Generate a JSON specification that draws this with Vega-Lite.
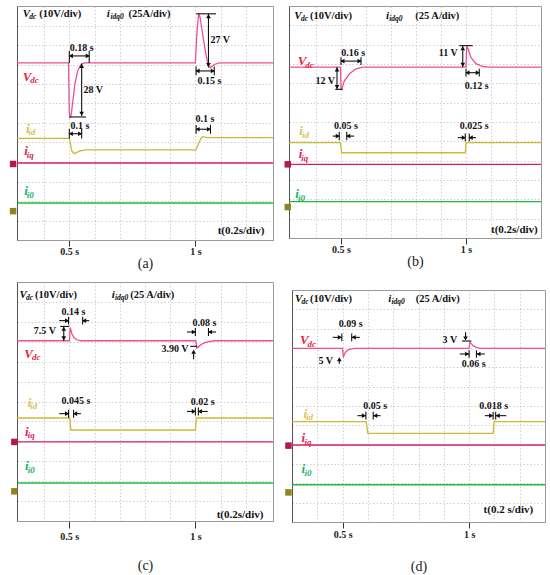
{
  "$schema": "https://vega.github.io/schema/vega-lite/v6.json",
  "description": "Oscilloscope captures of Vdc and idq0 currents for four controllers, panels (a) to (d).",
  "padding": {"left": 9, "top": 5, "right": 0, "bottom": 0},
  "data": {
    "values": [
      {"p": "a", "k": "tr", "s": "vdc", "t": 0.2925, "y": 9.08},
      {"p": "a", "k": "tr", "s": "vdc", "t": 0.497, "y": 9.08},
      {"p": "a", "k": "tr", "s": "vdc", "t": 0.5, "y": 6.5},
      {"p": "a", "k": "tr", "s": "vdc", "t": 0.503, "y": 6.3},
      {"p": "a", "k": "tr", "s": "vdc", "t": 0.507, "y": 6.4},
      {"p": "a", "k": "tr", "s": "vdc", "t": 0.513, "y": 7.0},
      {"p": "a", "k": "tr", "s": "vdc", "t": 0.522, "y": 7.98},
      {"p": "a", "k": "tr", "s": "vdc", "t": 0.533, "y": 8.67},
      {"p": "a", "k": "tr", "s": "vdc", "t": 0.546, "y": 9.0},
      {"p": "a", "k": "tr", "s": "vdc", "t": 0.56, "y": 9.08},
      {"p": "a", "k": "tr", "s": "vdc", "t": 1.0, "y": 9.08},
      {"p": "a", "k": "tr", "s": "vdc", "t": 1.006, "y": 10.6},
      {"p": "a", "k": "tr", "s": "vdc", "t": 1.013, "y": 11.6},
      {"p": "a", "k": "tr", "s": "vdc", "t": 1.019, "y": 11.4},
      {"p": "a", "k": "tr", "s": "vdc", "t": 1.029, "y": 10.55},
      {"p": "a", "k": "tr", "s": "vdc", "t": 1.042, "y": 9.52},
      {"p": "a", "k": "tr", "s": "vdc", "t": 1.052, "y": 8.92},
      {"p": "a", "k": "tr", "s": "vdc", "t": 1.06, "y": 8.84},
      {"p": "a", "k": "tr", "s": "vdc", "t": 1.075, "y": 9.0},
      {"p": "a", "k": "tr", "s": "vdc", "t": 1.095, "y": 9.08},
      {"p": "a", "k": "tr", "s": "vdc", "t": 1.308, "y": 9.08},
      {"p": "a", "k": "tr", "s": "iid", "t": 0.2925, "y": 5.21},
      {"p": "a", "k": "tr", "s": "iid", "t": 0.5, "y": 5.21},
      {"p": "a", "k": "tr", "s": "iid", "t": 0.505, "y": 4.9},
      {"p": "a", "k": "tr", "s": "iid", "t": 0.51, "y": 4.56},
      {"p": "a", "k": "tr", "s": "iid", "t": 0.52, "y": 4.43},
      {"p": "a", "k": "tr", "s": "iid", "t": 0.54, "y": 4.56},
      {"p": "a", "k": "tr", "s": "iid", "t": 0.565, "y": 4.62},
      {"p": "a", "k": "tr", "s": "iid", "t": 1.002, "y": 4.62},
      {"p": "a", "k": "tr", "s": "iid", "t": 1.01, "y": 4.85},
      {"p": "a", "k": "tr", "s": "iid", "t": 1.022, "y": 5.2},
      {"p": "a", "k": "tr", "s": "iid", "t": 1.029, "y": 5.3},
      {"p": "a", "k": "tr", "s": "iid", "t": 1.049, "y": 5.25},
      {"p": "a", "k": "tr", "s": "iid", "t": 1.308, "y": 5.25},
      {"p": "a", "k": "tr", "s": "iiq", "t": 0.2925, "y": 3.95},
      {"p": "a", "k": "tr", "s": "iiq", "t": 1.308, "y": 3.95},
      {"p": "a", "k": "tr", "s": "i0", "t": 0.2925, "y": 1.9},
      {"p": "a", "k": "tr", "s": "i0", "t": 1.308, "y": 1.9},

      {"p": "b", "k": "tr", "s": "vdc", "t": 0.292, "y": 8.84},
      {"p": "b", "k": "tr", "s": "vdc", "t": 0.498, "y": 8.84},
      {"p": "b", "k": "tr", "s": "vdc", "t": 0.5, "y": 7.69},
      {"p": "b", "k": "tr", "s": "vdc", "t": 0.503, "y": 7.69},
      {"p": "b", "k": "tr", "s": "vdc", "t": 0.513, "y": 8.12},
      {"p": "b", "k": "tr", "s": "vdc", "t": 0.533, "y": 8.48},
      {"p": "b", "k": "tr", "s": "vdc", "t": 0.56, "y": 8.75},
      {"p": "b", "k": "tr", "s": "vdc", "t": 0.587, "y": 8.84},
      {"p": "b", "k": "tr", "s": "vdc", "t": 1.0, "y": 8.84},
      {"p": "b", "k": "tr", "s": "vdc", "t": 1.003, "y": 9.93},
      {"p": "b", "k": "tr", "s": "vdc", "t": 1.008, "y": 9.8},
      {"p": "b", "k": "tr", "s": "vdc", "t": 1.02, "y": 9.33},
      {"p": "b", "k": "tr", "s": "vdc", "t": 1.04, "y": 9.02},
      {"p": "b", "k": "tr", "s": "vdc", "t": 1.067, "y": 8.87},
      {"p": "b", "k": "tr", "s": "vdc", "t": 1.093, "y": 8.84},
      {"p": "b", "k": "tr", "s": "vdc", "t": 1.3, "y": 8.84},
      {"p": "b", "k": "tr", "s": "iid", "t": 0.292, "y": 4.93},
      {"p": "b", "k": "tr", "s": "iid", "t": 0.497, "y": 4.93},
      {"p": "b", "k": "tr", "s": "iid", "t": 0.503, "y": 4.41},
      {"p": "b", "k": "tr", "s": "iid", "t": 0.997, "y": 4.41},
      {"p": "b", "k": "tr", "s": "iid", "t": 1.0, "y": 4.93},
      {"p": "b", "k": "tr", "s": "iid", "t": 1.3, "y": 4.93},
      {"p": "b", "k": "tr", "s": "iiq", "t": 0.292, "y": 3.81},
      {"p": "b", "k": "tr", "s": "iiq", "t": 1.3, "y": 3.81},
      {"p": "b", "k": "tr", "s": "i0", "t": 0.292, "y": 1.88},
      {"p": "b", "k": "tr", "s": "i0", "t": 1.3, "y": 1.88},

      {"p": "c", "k": "tr", "s": "vdc", "t": 0.2925, "y": 9.05},
      {"p": "c", "k": "tr", "s": "vdc", "t": 0.501, "y": 9.05},
      {"p": "c", "k": "tr", "s": "vdc", "t": 0.503, "y": 9.72},
      {"p": "c", "k": "tr", "s": "vdc", "t": 0.506, "y": 9.6},
      {"p": "c", "k": "tr", "s": "vdc", "t": 0.51, "y": 9.4},
      {"p": "c", "k": "tr", "s": "vdc", "t": 0.52, "y": 9.19},
      {"p": "c", "k": "tr", "s": "vdc", "t": 0.53, "y": 9.1},
      {"p": "c", "k": "tr", "s": "vdc", "t": 0.545, "y": 9.05},
      {"p": "c", "k": "tr", "s": "vdc", "t": 1.002, "y": 9.05},
      {"p": "c", "k": "tr", "s": "vdc", "t": 1.005, "y": 8.69},
      {"p": "c", "k": "tr", "s": "vdc", "t": 1.01, "y": 8.72},
      {"p": "c", "k": "tr", "s": "vdc", "t": 1.022, "y": 8.85},
      {"p": "c", "k": "tr", "s": "vdc", "t": 1.035, "y": 8.94},
      {"p": "c", "k": "tr", "s": "vdc", "t": 1.05, "y": 8.99},
      {"p": "c", "k": "tr", "s": "vdc", "t": 1.075, "y": 9.05},
      {"p": "c", "k": "tr", "s": "vdc", "t": 1.308, "y": 9.05},
      {"p": "c", "k": "tr", "s": "iid", "t": 0.2925, "y": 5.17},
      {"p": "c", "k": "tr", "s": "iid", "t": 0.502, "y": 5.17},
      {"p": "c", "k": "tr", "s": "iid", "t": 0.506, "y": 4.57},
      {"p": "c", "k": "tr", "s": "iid", "t": 1.0, "y": 4.57},
      {"p": "c", "k": "tr", "s": "iid", "t": 1.004, "y": 5.17},
      {"p": "c", "k": "tr", "s": "iid", "t": 1.308, "y": 5.17},
      {"p": "c", "k": "tr", "s": "iiq", "t": 0.2925, "y": 3.97},
      {"p": "c", "k": "tr", "s": "iiq", "t": 1.308, "y": 3.97},
      {"p": "c", "k": "tr", "s": "i0", "t": 0.2925, "y": 1.91},
      {"p": "c", "k": "tr", "s": "i0", "t": 1.308, "y": 1.91},

      {"p": "d", "k": "tr", "s": "vdc", "t": 0.3, "y": 8.98},
      {"p": "d", "k": "tr", "s": "vdc", "t": 0.5, "y": 8.98},
      {"p": "d", "k": "tr", "s": "vdc", "t": 0.503, "y": 8.56},
      {"p": "d", "k": "tr", "s": "vdc", "t": 0.505, "y": 8.6},
      {"p": "d", "k": "tr", "s": "vdc", "t": 0.509, "y": 8.74},
      {"p": "d", "k": "tr", "s": "vdc", "t": 0.515, "y": 8.83},
      {"p": "d", "k": "tr", "s": "vdc", "t": 0.522, "y": 8.9},
      {"p": "d", "k": "tr", "s": "vdc", "t": 0.535, "y": 8.95},
      {"p": "d", "k": "tr", "s": "vdc", "t": 0.55, "y": 8.98},
      {"p": "d", "k": "tr", "s": "vdc", "t": 1.0, "y": 8.98},
      {"p": "d", "k": "tr", "s": "vdc", "t": 1.003, "y": 9.3},
      {"p": "d", "k": "tr", "s": "vdc", "t": 1.007, "y": 9.25},
      {"p": "d", "k": "tr", "s": "vdc", "t": 1.016, "y": 9.12},
      {"p": "d", "k": "tr", "s": "vdc", "t": 1.029, "y": 9.03},
      {"p": "d", "k": "tr", "s": "vdc", "t": 1.042, "y": 8.98},
      {"p": "d", "k": "tr", "s": "vdc", "t": 1.3, "y": 8.98},
      {"p": "d", "k": "tr", "s": "iid", "t": 0.3, "y": 5.19},
      {"p": "d", "k": "tr", "s": "iid", "t": 0.593, "y": 5.19},
      {"p": "d", "k": "tr", "s": "iid", "t": 0.6, "y": 4.58},
      {"p": "d", "k": "tr", "s": "iid", "t": 1.095, "y": 4.58},
      {"p": "d", "k": "tr", "s": "iid", "t": 1.099, "y": 5.19},
      {"p": "d", "k": "tr", "s": "iid", "t": 1.3, "y": 5.19},
      {"p": "d", "k": "tr", "s": "iiq", "t": 0.3, "y": 3.98},
      {"p": "d", "k": "tr", "s": "iiq", "t": 1.3, "y": 3.98},
      {"p": "d", "k": "tr", "s": "i0", "t": 0.3, "y": 1.93},
      {"p": "d", "k": "tr", "s": "i0", "t": 1.3, "y": 1.93},

      {"p": "a", "k": "mk", "s": "iiq", "t": 0.277, "y": 3.9},
      {"p": "a", "k": "mk", "s": "iid", "t": 0.277, "y": 1.48},
      {"p": "b", "k": "mk", "s": "iiq", "t": 0.287, "y": 3.81},
      {"p": "b", "k": "mk", "s": "iid", "t": 0.287, "y": 1.6},
      {"p": "c", "k": "mk", "s": "iiq", "t": 0.282, "y": 3.97},
      {"p": "c", "k": "mk", "s": "iid", "t": 0.282, "y": 1.49},
      {"p": "d", "k": "mk", "s": "iiq", "t": 0.286, "y": 3.95},
      {"p": "d", "k": "mk", "s": "iid", "t": 0.286, "y": 1.53},

      {"p": "a", "k": "seg", "t": 0.5, "y": 9.44, "t2": 0.579, "y2": 9.44},
      {"p": "a", "k": "seg", "t": 0.5, "y": 9.08, "t2": 0.5, "y2": 9.7},
      {"p": "a", "k": "seg", "t": 0.579, "y": 9.08, "t2": 0.579, "y2": 9.7},
      {"p": "a", "k": "seg", "t": 0.549, "y": 9.05, "t2": 0.549, "y2": 6.35},
      {"p": "a", "k": "seg", "t": 0.5, "y": 6.31, "t2": 0.566, "y2": 6.31},
      {"p": "a", "k": "seg", "t": 0.5, "y": 5.45, "t2": 0.549, "y2": 5.45},
      {"p": "a", "k": "seg", "t": 0.5, "y": 5.2, "t2": 0.5, "y2": 5.7},
      {"p": "a", "k": "seg", "t": 0.549, "y": 5.2, "t2": 0.549, "y2": 5.7},
      {"p": "a", "k": "seg", "t": 1.003, "y": 11.6, "t2": 1.082, "y2": 11.6},
      {"p": "a", "k": "seg", "t": 1.052, "y": 11.6, "t2": 1.052, "y2": 8.85},
      {"p": "a", "k": "seg", "t": 1.003, "y": 8.67, "t2": 1.075, "y2": 8.67},
      {"p": "a", "k": "seg", "t": 1.003, "y": 8.45, "t2": 1.003, "y2": 8.9},
      {"p": "a", "k": "seg", "t": 1.075, "y": 8.45, "t2": 1.075, "y2": 8.9},
      {"p": "a", "k": "seg", "t": 1.003, "y": 5.68, "t2": 1.06, "y2": 5.68},
      {"p": "a", "k": "seg", "t": 1.003, "y": 5.45, "t2": 1.003, "y2": 5.9},
      {"p": "a", "k": "seg", "t": 1.06, "y": 5.45, "t2": 1.06, "y2": 5.9},
      {"p": "a", "k": "head", "s": "l", "t": 0.506, "y": 9.44},
      {"p": "a", "k": "head", "s": "r", "t": 0.573, "y": 9.44},
      {"p": "a", "k": "head", "s": "u", "t": 0.549, "y": 8.93},
      {"p": "a", "k": "head", "s": "d", "t": 0.549, "y": 6.47},
      {"p": "a", "k": "head", "s": "l", "t": 0.506, "y": 5.45},
      {"p": "a", "k": "head", "s": "r", "t": 0.543, "y": 5.45},
      {"p": "a", "k": "head", "s": "u", "t": 1.052, "y": 11.48},
      {"p": "a", "k": "head", "s": "d", "t": 1.052, "y": 8.97},
      {"p": "a", "k": "head", "s": "l", "t": 1.009, "y": 8.67},
      {"p": "a", "k": "head", "s": "r", "t": 1.069, "y": 8.67},
      {"p": "a", "k": "head", "s": "l", "t": 1.009, "y": 5.68},
      {"p": "a", "k": "head", "s": "r", "t": 1.054, "y": 5.68},

      {"p": "b", "k": "seg", "t": 0.484, "y": 8.84, "t2": 0.484, "y2": 7.69},
      {"p": "b", "k": "seg", "t": 0.477, "y": 7.69, "t2": 0.507, "y2": 7.69},
      {"p": "b", "k": "seg", "t": 0.5, "y": 9.15, "t2": 0.58, "y2": 9.15},
      {"p": "b", "k": "seg", "t": 0.5, "y": 8.95, "t2": 0.5, "y2": 9.35},
      {"p": "b", "k": "seg", "t": 0.58, "y": 8.95, "t2": 0.58, "y2": 9.35},
      {"p": "b", "k": "seg", "t": 0.987, "y": 9.93, "t2": 0.987, "y2": 8.84},
      {"p": "b", "k": "seg", "t": 0.973, "y": 9.95, "t2": 1.027, "y2": 9.95},
      {"p": "b", "k": "seg", "t": 1.0, "y": 8.55, "t2": 1.053, "y2": 8.55},
      {"p": "b", "k": "seg", "t": 1.0, "y": 8.35, "t2": 1.0, "y2": 8.75},
      {"p": "b", "k": "seg", "t": 1.053, "y": 8.35, "t2": 1.053, "y2": 8.75},
      {"p": "b", "k": "seg", "t": 0.467, "y": 5.27, "t2": 0.493, "y2": 5.27},
      {"p": "b", "k": "seg", "t": 0.493, "y": 5.05, "t2": 0.493, "y2": 5.5},
      {"p": "b", "k": "seg", "t": 0.523, "y": 5.05, "t2": 0.523, "y2": 5.5},
      {"p": "b", "k": "seg", "t": 0.523, "y": 5.27, "t2": 0.553, "y2": 5.27},
      {"p": "b", "k": "seg", "t": 0.967, "y": 5.19, "t2": 0.997, "y2": 5.19},
      {"p": "b", "k": "seg", "t": 0.997, "y": 5.0, "t2": 0.997, "y2": 5.4},
      {"p": "b", "k": "seg", "t": 1.013, "y": 5.0, "t2": 1.013, "y2": 5.4},
      {"p": "b", "k": "seg", "t": 1.013, "y": 5.19, "t2": 1.04, "y2": 5.19},
      {"p": "b", "k": "head", "s": "u", "t": 0.484, "y": 8.72},
      {"p": "b", "k": "head", "s": "d", "t": 0.484, "y": 7.81},
      {"p": "b", "k": "head", "s": "l", "t": 0.506, "y": 9.15},
      {"p": "b", "k": "head", "s": "r", "t": 0.574, "y": 9.15},
      {"p": "b", "k": "head", "s": "u", "t": 0.987, "y": 9.81},
      {"p": "b", "k": "head", "s": "d", "t": 0.987, "y": 8.96},
      {"p": "b", "k": "head", "s": "l", "t": 1.006, "y": 8.55},
      {"p": "b", "k": "head", "s": "r", "t": 1.047, "y": 8.55},
      {"p": "b", "k": "head", "s": "r", "t": 0.487, "y": 5.27},
      {"p": "b", "k": "head", "s": "l", "t": 0.529, "y": 5.27},
      {"p": "b", "k": "head", "s": "r", "t": 0.991, "y": 5.19},
      {"p": "b", "k": "head", "s": "l", "t": 1.019, "y": 5.19},

      {"p": "c", "k": "seg", "t": 0.46, "y": 10.06, "t2": 0.497, "y2": 10.06},
      {"p": "c", "k": "seg", "t": 0.497, "y": 9.86, "t2": 0.497, "y2": 10.26},
      {"p": "c", "k": "seg", "t": 0.553, "y": 9.86, "t2": 0.553, "y2": 10.26},
      {"p": "c", "k": "seg", "t": 0.553, "y": 10.06, "t2": 0.579, "y2": 10.06},
      {"p": "c", "k": "seg", "t": 0.478, "y": 9.77, "t2": 0.478, "y2": 9.05},
      {"p": "c", "k": "seg", "t": 0.464, "y": 9.77, "t2": 0.5, "y2": 9.77},
      {"p": "c", "k": "seg", "t": 0.967, "y": 9.49, "t2": 1.0, "y2": 9.49},
      {"p": "c", "k": "seg", "t": 1.0, "y": 9.29, "t2": 1.0, "y2": 9.69},
      {"p": "c", "k": "seg", "t": 1.052, "y": 9.29, "t2": 1.052, "y2": 9.69},
      {"p": "c", "k": "seg", "t": 1.052, "y": 9.49, "t2": 1.082, "y2": 9.49},
      {"p": "c", "k": "seg", "t": 0.98, "y": 8.77, "t2": 1.007, "y2": 8.77},
      {"p": "c", "k": "seg", "t": 0.993, "y": 8.12, "t2": 0.993, "y2": 8.55},
      {"p": "c", "k": "seg", "t": 0.46, "y": 5.39, "t2": 0.497, "y2": 5.39},
      {"p": "c", "k": "seg", "t": 0.497, "y": 5.19, "t2": 0.497, "y2": 5.59},
      {"p": "c", "k": "seg", "t": 0.517, "y": 5.19, "t2": 0.517, "y2": 5.59},
      {"p": "c", "k": "seg", "t": 0.517, "y": 5.39, "t2": 0.546, "y2": 5.39},
      {"p": "c", "k": "seg", "t": 0.967, "y": 5.5, "t2": 1.0, "y2": 5.5},
      {"p": "c", "k": "seg", "t": 1.0, "y": 5.3, "t2": 1.0, "y2": 5.7},
      {"p": "c", "k": "seg", "t": 1.012, "y": 5.3, "t2": 1.012, "y2": 5.7},
      {"p": "c", "k": "seg", "t": 1.012, "y": 5.5, "t2": 1.049, "y2": 5.5},
      {"p": "c", "k": "head", "s": "r", "t": 0.491, "y": 10.06},
      {"p": "c", "k": "head", "s": "l", "t": 0.559, "y": 10.06},
      {"p": "c", "k": "head", "s": "u", "t": 0.478, "y": 9.65},
      {"p": "c", "k": "head", "s": "d", "t": 0.478, "y": 9.17},
      {"p": "c", "k": "head", "s": "r", "t": 0.994, "y": 9.49},
      {"p": "c", "k": "head", "s": "l", "t": 1.058, "y": 9.49},
      {"p": "c", "k": "head", "s": "u", "t": 0.993, "y": 8.5},
      {"p": "c", "k": "head", "s": "r", "t": 0.491, "y": 5.39},
      {"p": "c", "k": "head", "s": "l", "t": 0.523, "y": 5.39},
      {"p": "c", "k": "head", "s": "r", "t": 0.994, "y": 5.5},
      {"p": "c", "k": "head", "s": "l", "t": 1.018, "y": 5.5},

      {"p": "d", "k": "seg", "t": 0.461, "y": 9.55, "t2": 0.497, "y2": 9.55},
      {"p": "d", "k": "seg", "t": 0.497, "y": 9.35, "t2": 0.497, "y2": 9.75},
      {"p": "d", "k": "seg", "t": 0.536, "y": 9.35, "t2": 0.536, "y2": 9.75},
      {"p": "d", "k": "seg", "t": 0.536, "y": 9.55, "t2": 0.568, "y2": 9.55},
      {"p": "d", "k": "seg", "t": 0.487, "y": 8.18, "t2": 0.487, "y2": 8.45},
      {"p": "d", "k": "seg", "t": 0.986, "y": 9.82, "t2": 0.986, "y2": 9.45},
      {"p": "d", "k": "seg", "t": 0.972, "y": 9.36, "t2": 1.009, "y2": 9.36},
      {"p": "d", "k": "seg", "t": 0.963, "y": 8.69, "t2": 1.0, "y2": 8.69},
      {"p": "d", "k": "seg", "t": 1.0, "y": 8.49, "t2": 1.0, "y2": 8.89},
      {"p": "d", "k": "seg", "t": 1.029, "y": 8.49, "t2": 1.029, "y2": 8.89},
      {"p": "d", "k": "seg", "t": 1.029, "y": 8.69, "t2": 1.062, "y2": 8.69},
      {"p": "d", "k": "seg", "t": 0.559, "y": 5.5, "t2": 0.592, "y2": 5.5},
      {"p": "d", "k": "seg", "t": 0.592, "y": 5.3, "t2": 0.592, "y2": 5.7},
      {"p": "d", "k": "seg", "t": 0.621, "y": 5.3, "t2": 0.621, "y2": 5.7},
      {"p": "d", "k": "seg", "t": 0.621, "y": 5.5, "t2": 0.65, "y2": 5.5},
      {"p": "d", "k": "seg", "t": 1.062, "y": 5.5, "t2": 1.095, "y2": 5.5},
      {"p": "d", "k": "seg", "t": 1.095, "y": 5.3, "t2": 1.095, "y2": 5.7},
      {"p": "d", "k": "seg", "t": 1.105, "y": 5.3, "t2": 1.105, "y2": 5.7},
      {"p": "d", "k": "seg", "t": 1.105, "y": 5.5, "t2": 1.147, "y2": 5.5},
      {"p": "d", "k": "head", "s": "r", "t": 0.489, "y": 9.55},
      {"p": "d", "k": "head", "s": "l", "t": 0.544, "y": 9.55},
      {"p": "d", "k": "head", "s": "u", "t": 0.487, "y": 8.42},
      {"p": "d", "k": "head", "s": "d", "t": 0.986, "y": 9.49},
      {"p": "d", "k": "head", "s": "r", "t": 0.992, "y": 8.69},
      {"p": "d", "k": "head", "s": "l", "t": 1.037, "y": 8.69},
      {"p": "d", "k": "head", "s": "r", "t": 0.584, "y": 5.5},
      {"p": "d", "k": "head", "s": "l", "t": 0.629, "y": 5.5},
      {"p": "d", "k": "head", "s": "r", "t": 1.087, "y": 5.5},
      {"p": "d", "k": "head", "s": "l", "t": 1.113, "y": 5.5},

      {"p": "a", "k": "m", "txt": "0.18 s", "t": 0.549, "y": 9.85},
      {"p": "a", "k": "m", "txt": "28 V", "t": 0.595, "y": 7.69},
      {"p": "a", "k": "m", "txt": "0.1 s", "t": 0.542, "y": 5.85},
      {"p": "a", "k": "m", "txt": "27 V", "t": 1.099, "y": 10.26},
      {"p": "a", "k": "m", "txt": "0.15 s", "t": 1.056, "y": 8.15},
      {"p": "a", "k": "m", "txt": "0.1 s", "t": 1.038, "y": 6.19},
      {"p": "b", "k": "m", "txt": "0.16 s", "t": 0.549, "y": 9.58},
      {"p": "b", "k": "m", "txt": "12 V", "t": 0.437, "y": 8.12},
      {"p": "b", "k": "m", "txt": "11 V", "t": 0.929, "y": 9.57},
      {"p": "b", "k": "m", "txt": "0.12 s", "t": 1.043, "y": 7.86},
      {"p": "b", "k": "m", "txt": "0.05 s", "t": 0.52, "y": 5.79},
      {"p": "b", "k": "m", "txt": "0.025 s", "t": 1.033, "y": 5.79},
      {"p": "c", "k": "m", "txt": "0.14 s", "t": 0.516, "y": 10.48},
      {"p": "c", "k": "m", "txt": "7.5 V", "t": 0.403, "y": 9.52},
      {"p": "c", "k": "m", "txt": "0.08 s", "t": 1.036, "y": 9.94},
      {"p": "c", "k": "m", "txt": "3.90 V", "t": 0.919, "y": 8.65},
      {"p": "c", "k": "m", "txt": "0.045 s", "t": 0.526, "y": 6.01},
      {"p": "c", "k": "m", "txt": "0.02 s", "t": 1.029, "y": 6.0},
      {"p": "d", "k": "m", "txt": "0.09 s", "t": 0.532, "y": 10.24},
      {"p": "d", "k": "m", "txt": "5 V", "t": 0.433, "y": 8.34},
      {"p": "d", "k": "m", "txt": "3 V", "t": 0.924, "y": 9.43},
      {"p": "d", "k": "m", "txt": "0.06 s", "t": 1.018, "y": 8.17},
      {"p": "d", "k": "m", "txt": "0.05 s", "t": 0.629, "y": 6.02},
      {"p": "d", "k": "m", "txt": "0.018 s", "t": 1.097, "y": 6.02},

      {"p": "a", "k": "hi", "txt": "V", "t": 0.315, "y": 11.6},
      {"p": "a", "k": "hs", "txt": "dc", "t": 0.341, "y": 11.6},
      {"p": "a", "k": "h", "txt": "(10V/div)", "t": 0.381, "y": 11.6},
      {"p": "a", "k": "hi", "txt": "i", "t": 0.649, "y": 11.6},
      {"p": "a", "k": "hs", "txt": "idq0", "t": 0.663, "y": 11.6},
      {"p": "a", "k": "h", "txt": "(25A/div)", "t": 0.735, "y": 11.6},
      {"p": "b", "k": "hi", "txt": "V", "t": 0.313, "y": 11.48},
      {"p": "b", "k": "hs", "txt": "dc", "t": 0.34, "y": 11.48},
      {"p": "b", "k": "h", "txt": "(10V/div)", "t": 0.376, "y": 11.48},
      {"p": "b", "k": "hi", "txt": "i", "t": 0.68, "y": 11.48},
      {"p": "b", "k": "hs", "txt": "idq0", "t": 0.693, "y": 11.48},
      {"p": "b", "k": "h", "txt": "(25 A/div)", "t": 0.797, "y": 11.48},
      {"p": "c", "k": "hi", "txt": "V", "t": 0.302, "y": 11.33},
      {"p": "c", "k": "hs", "txt": "dc", "t": 0.328, "y": 11.33},
      {"p": "c", "k": "h", "txt": "(10V/div)", "t": 0.364, "y": 11.33},
      {"p": "c", "k": "hi", "txt": "i", "t": 0.668, "y": 11.33},
      {"p": "c", "k": "hs", "txt": "idq0", "t": 0.681, "y": 11.33},
      {"p": "c", "k": "h", "txt": "(25 A/div)", "t": 0.742, "y": 11.33},
      {"p": "d", "k": "hi", "txt": "V", "t": 0.312, "y": 11.53},
      {"p": "d", "k": "hs", "txt": "dc", "t": 0.338, "y": 11.53},
      {"p": "d", "k": "h", "txt": "(10V/div)", "t": 0.371, "y": 11.53},
      {"p": "d", "k": "hi", "txt": "i", "t": 0.68, "y": 11.53},
      {"p": "d", "k": "hs", "txt": "idq0", "t": 0.693, "y": 11.53},
      {"p": "d", "k": "h", "txt": "(25 A/div)", "t": 0.789, "y": 11.53},

      {"p": "a", "k": "L", "s": "vdc", "txt": "V", "t": 0.315, "y": 8.36},
      {"p": "a", "k": "Ls", "s": "vdc", "txt": "dc", "t": 0.345, "y": 8.36},
      {"p": "a", "k": "L", "s": "iid", "txt": "i", "t": 0.328, "y": 5.7},
      {"p": "a", "k": "Ls", "s": "iid", "txt": "id", "t": 0.337, "y": 5.7},
      {"p": "a", "k": "L", "s": "iiq", "txt": "i", "t": 0.321, "y": 4.56},
      {"p": "a", "k": "Ls", "s": "iiq", "txt": "iq", "t": 0.331, "y": 4.56},
      {"p": "a", "k": "L", "s": "i0", "txt": "i", "t": 0.321, "y": 2.5},
      {"p": "a", "k": "Ls", "s": "i0", "txt": "i0", "t": 0.331, "y": 2.5},
      {"p": "b", "k": "L", "s": "vdc", "txt": "V", "t": 0.327, "y": 9.15},
      {"p": "b", "k": "Ls", "s": "vdc", "txt": "dc", "t": 0.357, "y": 9.15},
      {"p": "b", "k": "L", "s": "iid", "txt": "i", "t": 0.333, "y": 5.53},
      {"p": "b", "k": "Ls", "s": "iid", "txt": "id", "t": 0.344, "y": 5.53},
      {"p": "b", "k": "L", "s": "iiq", "txt": "i", "t": 0.331, "y": 4.34},
      {"p": "b", "k": "Ls", "s": "iiq", "txt": "iq", "t": 0.341, "y": 4.34},
      {"p": "b", "k": "L", "s": "i0", "txt": "i", "t": 0.317, "y": 2.27},
      {"p": "b", "k": "Ls", "s": "i0", "txt": "i0", "t": 0.328, "y": 2.27},
      {"p": "c", "k": "L", "s": "vdc", "txt": "V", "t": 0.321, "y": 8.39},
      {"p": "c", "k": "Ls", "s": "vdc", "txt": "dc", "t": 0.352, "y": 8.39},
      {"p": "c", "k": "L", "s": "iid", "txt": "i", "t": 0.335, "y": 5.93},
      {"p": "c", "k": "Ls", "s": "iid", "txt": "id", "t": 0.345, "y": 5.93},
      {"p": "c", "k": "L", "s": "iiq", "txt": "i", "t": 0.324, "y": 4.47},
      {"p": "c", "k": "Ls", "s": "iiq", "txt": "iq", "t": 0.335, "y": 4.47},
      {"p": "c", "k": "L", "s": "i0", "txt": "i", "t": 0.324, "y": 2.75},
      {"p": "c", "k": "Ls", "s": "i0", "txt": "i0", "t": 0.335, "y": 2.75},
      {"p": "d", "k": "L", "s": "vdc", "txt": "V", "t": 0.332, "y": 9.41},
      {"p": "d", "k": "Ls", "s": "vdc", "txt": "dc", "t": 0.361, "y": 9.41},
      {"p": "d", "k": "L", "s": "iid", "txt": "i", "t": 0.345, "y": 5.6},
      {"p": "d", "k": "Ls", "s": "iid", "txt": "id", "t": 0.355, "y": 5.6},
      {"p": "d", "k": "L", "s": "iiq", "txt": "i", "t": 0.338, "y": 4.34},
      {"p": "d", "k": "Ls", "s": "iiq", "txt": "iq", "t": 0.349, "y": 4.34},
      {"p": "d", "k": "L", "s": "i0", "txt": "i", "t": 0.338, "y": 2.74},
      {"p": "d", "k": "Ls", "s": "i0", "txt": "i0", "t": 0.349, "y": 2.74},

      {"p": "a", "k": "tl", "txt": "t(0.2s/div)", "t": 1.274, "y": 0.46},
      {"p": "b", "k": "tl", "txt": "t(0.2s/div)", "t": 1.287, "y": 0.41},
      {"p": "c", "k": "tl", "txt": "t(0.2s/div)", "t": 1.27, "y": 0.29},
      {"p": "d", "k": "tl", "txt": "t(0.2 s/div)", "t": 1.253, "y": 0.61}
    ]
  },
  "vconcat": [
    {
      "hconcat": [
        {
          "width": 256,
          "height": 234,
          "transform": [{"filter": "datum.p == 'a'"}],
          "encoding": {
            "x": {"field": "t", "type": "quantitative", "scale": {"domain": [0.2925, 1.308], "nice": false},
              "axis": {"values": [0.4, 0.5, 0.6, 0.7, 0.8, 0.9, 1, 1.1, 1.2], "labelExpr": "datum.value == 0.5 ? '0.5 s' : datum.value == 1 ? '1 s' : ''",
                "tickOpacity": {"condition": {"test": "datum.value == 0.5 || datum.value == 1", "value": 1}, "value": 0}, "title": "(a)"}},
            "y": {"field": "y", "type": "quantitative", "scale": {"domain": [0, 12], "nice": false},
              "axis": {"values": [1, 2, 3, 4, 5, 6, 7, 8, 9, 10, 11], "title": null, "labels": false, "ticks": false}}
          },
          "layer": [
            {"transform": [{"filter": "datum.k == 'tr'"}], "mark": {"type": "line", "clip": true},
              "encoding": {"color": {"field": "s", "type": "nominal", "scale": {"domain": ["vdc", "iid", "iiq", "i0"], "range": ["#ee4f93", "#cbbb34", "#d81e63", "#22b83c"]}, "legend": null},
                "strokeWidth": {"field": "s", "type": "nominal", "scale": {"domain": ["vdc", "iid", "iiq", "i0"], "range": [1.3, 1.4, 1.8, 2.2]}, "legend": null}}},
            {"transform": [{"filter": "datum.k == 'mk'"}], "mark": {"type": "square", "filled": true, "size": 42, "opacity": 1},
              "encoding": {"color": {"field": "s", "type": "nominal", "scale": {"domain": ["iiq", "iid"], "range": ["#b5174f", "#8f8420"]}, "legend": null}}},
            {"transform": [{"filter": "datum.k == 'seg'"}], "mark": {"type": "rule", "color": "#111", "strokeWidth": 1.1},
              "encoding": {"x2": {"field": "t2"}, "y2": {"field": "y2"}}},
            {"transform": [{"filter": "datum.k == 'head'"}], "mark": {"type": "point", "filled": true, "color": "#111", "size": 22, "opacity": 1},
              "encoding": {"shape": {"field": "s", "type": "nominal", "scale": {"domain": ["l", "r", "u", "d"], "range": ["triangle-left", "triangle-right", "triangle-up", "triangle-down"]}, "legend": null}}},
            {"transform": [{"filter": "datum.k == 'm'"}], "mark": {"type": "text", "fontSize": 10, "align": "center", "color": "#111"}, "encoding": {"text": {"field": "txt"}}},
            {"transform": [{"filter": "datum.k == 'h'"}], "mark": {"type": "text", "fontSize": 10.5, "align": "left", "color": "#111"}, "encoding": {"text": {"field": "txt"}}},
            {"transform": [{"filter": "datum.k == 'hi'"}], "mark": {"type": "text", "fontSize": 11, "fontStyle": "italic", "align": "left", "color": "#111"}, "encoding": {"text": {"field": "txt"}}},
            {"transform": [{"filter": "datum.k == 'hs'"}], "mark": {"type": "text", "fontSize": 7.5, "fontStyle": "italic", "align": "left", "dy": 3, "color": "#111"}, "encoding": {"text": {"field": "txt"}}},
            {"transform": [{"filter": "datum.k == 'L'"}], "mark": {"type": "text", "fontSize": 13, "fontStyle": "italic", "align": "left"},
              "encoding": {"text": {"field": "txt"}, "color": {"field": "s", "type": "nominal", "scale": {"domain": ["vdc", "iid", "iiq", "i0"], "range": ["#e81f3f", "#d6c45a", "#e0245e", "#19b36b"]}, "legend": null}}},
            {"transform": [{"filter": "datum.k == 'Ls'"}], "mark": {"type": "text", "fontSize": 9, "fontStyle": "italic", "align": "left", "dy": 3.5},
              "encoding": {"text": {"field": "txt"}, "color": {"field": "s", "type": "nominal", "scale": {"domain": ["vdc", "iid", "iiq", "i0"], "range": ["#e81f3f", "#d6c45a", "#e0245e", "#19b36b"]}, "legend": null}}},
            {"transform": [{"filter": "datum.k == 'tl'"}], "mark": {"type": "text", "fontSize": 11, "align": "right", "color": "#111"}, "encoding": {"text": {"field": "txt"}}}
          ],
          "resolve": {"scale": {"color": "independent"}}
        },
        {
          "width": 252,
          "height": 232,
          "transform": [{"filter": "datum.p == 'b'"}],
          "encoding": {
            "x": {"field": "t", "type": "quantitative", "scale": {"domain": [0.292, 1.3], "nice": false},
              "axis": {"values": [0.4, 0.5, 0.6, 0.7, 0.8, 0.9, 1, 1.1, 1.2], "labelExpr": "datum.value == 0.5 ? '0.5 s' : datum.value == 1 ? '1 s' : ''",
                "tickOpacity": {"condition": {"test": "datum.value == 0.5 || datum.value == 1", "value": 1}, "value": 0}, "title": "(b)"}},
            "y": {"field": "y", "type": "quantitative", "scale": {"domain": [0, 12], "nice": false},
              "axis": {"values": [1, 2, 3, 4, 5, 6, 7, 8, 9, 10, 11], "title": null, "labels": false, "ticks": false}}
          },
          "layer": [
            {"transform": [{"filter": "datum.k == 'tr'"}], "mark": {"type": "line", "clip": true},
              "encoding": {"color": {"field": "s", "type": "nominal", "scale": {"domain": ["vdc", "iid", "iiq", "i0"], "range": ["#ee4f93", "#cbbb34", "#d81e63", "#22b83c"]}, "legend": null},
                "strokeWidth": {"field": "s", "type": "nominal", "scale": {"domain": ["vdc", "iid", "iiq", "i0"], "range": [1.3, 1.4, 1.8, 2.2]}, "legend": null}}},
            {"transform": [{"filter": "datum.k == 'mk'"}], "mark": {"type": "square", "filled": true, "size": 42, "opacity": 1},
              "encoding": {"color": {"field": "s", "type": "nominal", "scale": {"domain": ["iiq", "iid"], "range": ["#b5174f", "#8f8420"]}, "legend": null}}},
            {"transform": [{"filter": "datum.k == 'seg'"}], "mark": {"type": "rule", "color": "#111", "strokeWidth": 1.1},
              "encoding": {"x2": {"field": "t2"}, "y2": {"field": "y2"}}},
            {"transform": [{"filter": "datum.k == 'head'"}], "mark": {"type": "point", "filled": true, "color": "#111", "size": 22, "opacity": 1},
              "encoding": {"shape": {"field": "s", "type": "nominal", "scale": {"domain": ["l", "r", "u", "d"], "range": ["triangle-left", "triangle-right", "triangle-up", "triangle-down"]}, "legend": null}}},
            {"transform": [{"filter": "datum.k == 'm'"}], "mark": {"type": "text", "fontSize": 10, "align": "center", "color": "#111"}, "encoding": {"text": {"field": "txt"}}},
            {"transform": [{"filter": "datum.k == 'h'"}], "mark": {"type": "text", "fontSize": 10.5, "align": "left", "color": "#111"}, "encoding": {"text": {"field": "txt"}}},
            {"transform": [{"filter": "datum.k == 'hi'"}], "mark": {"type": "text", "fontSize": 11, "fontStyle": "italic", "align": "left", "color": "#111"}, "encoding": {"text": {"field": "txt"}}},
            {"transform": [{"filter": "datum.k == 'hs'"}], "mark": {"type": "text", "fontSize": 7.5, "fontStyle": "italic", "align": "left", "dy": 3, "color": "#111"}, "encoding": {"text": {"field": "txt"}}},
            {"transform": [{"filter": "datum.k == 'L'"}], "mark": {"type": "text", "fontSize": 13, "fontStyle": "italic", "align": "left"},
              "encoding": {"text": {"field": "txt"}, "color": {"field": "s", "type": "nominal", "scale": {"domain": ["vdc", "iid", "iiq", "i0"], "range": ["#e81f3f", "#d6c45a", "#e0245e", "#19b36b"]}, "legend": null}}},
            {"transform": [{"filter": "datum.k == 'Ls'"}], "mark": {"type": "text", "fontSize": 9, "fontStyle": "italic", "align": "left", "dy": 3.5},
              "encoding": {"text": {"field": "txt"}, "color": {"field": "s", "type": "nominal", "scale": {"domain": ["vdc", "iid", "iiq", "i0"], "range": ["#e81f3f", "#d6c45a", "#e0245e", "#19b36b"]}, "legend": null}}},
            {"transform": [{"filter": "datum.k == 'tl'"}], "mark": {"type": "text", "fontSize": 11, "align": "right", "color": "#111"}, "encoding": {"text": {"field": "txt"}}}
          ],
          "resolve": {"scale": {"color": "independent"}}
        }
      ],
      "spacing": 10
    },
    {
      "hconcat": [
        {
          "width": 256,
          "height": 239,
          "transform": [{"filter": "datum.p == 'c'"}],
          "encoding": {
            "x": {"field": "t", "type": "quantitative", "scale": {"domain": [0.2925, 1.308], "nice": false},
              "axis": {"values": [0.4, 0.5, 0.6, 0.7, 0.8, 0.9, 1, 1.1, 1.2], "labelExpr": "datum.value == 0.5 ? '0.5 s' : datum.value == 1 ? '1 s' : ''",
                "tickOpacity": {"condition": {"test": "datum.value == 0.5 || datum.value == 1", "value": 1}, "value": 0}, "title": "(c)", "tickSize": 7, "labelPadding": 3, "titlePadding": 17}},
            "y": {"field": "y", "type": "quantitative", "scale": {"domain": [0, 12], "nice": false},
              "axis": {"values": [1, 2, 3, 4, 5, 6, 7, 8, 9, 10, 11], "title": null, "labels": false, "ticks": false}}
          },
          "layer": [
            {"transform": [{"filter": "datum.k == 'tr'"}], "mark": {"type": "line", "clip": true},
              "encoding": {"color": {"field": "s", "type": "nominal", "scale": {"domain": ["vdc", "iid", "iiq", "i0"], "range": ["#ee4f93", "#cbbb34", "#d81e63", "#22b83c"]}, "legend": null},
                "strokeWidth": {"field": "s", "type": "nominal", "scale": {"domain": ["vdc", "iid", "iiq", "i0"], "range": [1.3, 1.4, 1.8, 2.2]}, "legend": null}}},
            {"transform": [{"filter": "datum.k == 'mk'"}], "mark": {"type": "square", "filled": true, "size": 42, "opacity": 1},
              "encoding": {"color": {"field": "s", "type": "nominal", "scale": {"domain": ["iiq", "iid"], "range": ["#b5174f", "#8f8420"]}, "legend": null}}},
            {"transform": [{"filter": "datum.k == 'seg'"}], "mark": {"type": "rule", "color": "#111", "strokeWidth": 1.1},
              "encoding": {"x2": {"field": "t2"}, "y2": {"field": "y2"}}},
            {"transform": [{"filter": "datum.k == 'head'"}], "mark": {"type": "point", "filled": true, "color": "#111", "size": 22, "opacity": 1},
              "encoding": {"shape": {"field": "s", "type": "nominal", "scale": {"domain": ["l", "r", "u", "d"], "range": ["triangle-left", "triangle-right", "triangle-up", "triangle-down"]}, "legend": null}}},
            {"transform": [{"filter": "datum.k == 'm'"}], "mark": {"type": "text", "fontSize": 10, "align": "center", "color": "#111"}, "encoding": {"text": {"field": "txt"}}},
            {"transform": [{"filter": "datum.k == 'h'"}], "mark": {"type": "text", "fontSize": 10.5, "align": "left", "color": "#111"}, "encoding": {"text": {"field": "txt"}}},
            {"transform": [{"filter": "datum.k == 'hi'"}], "mark": {"type": "text", "fontSize": 11, "fontStyle": "italic", "align": "left", "color": "#111"}, "encoding": {"text": {"field": "txt"}}},
            {"transform": [{"filter": "datum.k == 'hs'"}], "mark": {"type": "text", "fontSize": 7.5, "fontStyle": "italic", "align": "left", "dy": 3, "color": "#111"}, "encoding": {"text": {"field": "txt"}}},
            {"transform": [{"filter": "datum.k == 'L'"}], "mark": {"type": "text", "fontSize": 13, "fontStyle": "italic", "align": "left"},
              "encoding": {"text": {"field": "txt"}, "color": {"field": "s", "type": "nominal", "scale": {"domain": ["vdc", "iid", "iiq", "i0"], "range": ["#e81f3f", "#d6c45a", "#e0245e", "#19b36b"]}, "legend": null}}},
            {"transform": [{"filter": "datum.k == 'Ls'"}], "mark": {"type": "text", "fontSize": 9, "fontStyle": "italic", "align": "left", "dy": 3.5},
              "encoding": {"text": {"field": "txt"}, "color": {"field": "s", "type": "nominal", "scale": {"domain": ["vdc", "iid", "iiq", "i0"], "range": ["#e81f3f", "#d6c45a", "#e0245e", "#19b36b"]}, "legend": null}}},
            {"transform": [{"filter": "datum.k == 'tl'"}], "mark": {"type": "text", "fontSize": 11, "align": "right", "color": "#111"}, "encoding": {"text": {"field": "txt"}}}
          ],
          "resolve": {"scale": {"color": "independent"}}
        },
        {
          "vconcat": [
            {
              "width": 253,
              "height": 6,
              "view": {"stroke": null},
              "transform": [{"filter": "false"}],
              "mark": {"type": "text"},
              "encoding": {}
            },
            {
              "width": 253,
              "height": 232,
              "transform": [{"filter": "datum.p == 'd'"}],
              "encoding": {
                "x": {"field": "t", "type": "quantitative", "scale": {"domain": [0.3, 1.3], "nice": false},
                  "axis": {"values": [0.4, 0.5, 0.6, 0.7, 0.8, 0.9, 1, 1.1, 1.2], "labelExpr": "datum.value == 0.5 ? '0.5 s' : datum.value == 1 ? '1 s' : ''",
                    "tickOpacity": {"condition": {"test": "datum.value == 0.5 || datum.value == 1", "value": 1}, "value": 0}, "title": "(d)", "tickSize": 6, "labelPadding": 1, "titlePadding": 20}},
                "y": {"field": "y", "type": "quantitative", "scale": {"domain": [0, 12], "nice": false},
                  "axis": {"values": [1, 2, 3, 4, 5, 6, 7, 8, 9, 10, 11], "title": null, "labels": false, "ticks": false}}
              },
              "layer": [
                {"transform": [{"filter": "datum.k == 'tr'"}], "mark": {"type": "line", "clip": true},
                  "encoding": {"color": {"field": "s", "type": "nominal", "scale": {"domain": ["vdc", "iid", "iiq", "i0"], "range": ["#ee4f93", "#cbbb34", "#d81e63", "#22b83c"]}, "legend": null},
                    "strokeWidth": {"field": "s", "type": "nominal", "scale": {"domain": ["vdc", "iid", "iiq", "i0"], "range": [1.3, 1.4, 1.8, 2.2]}, "legend": null}}},
                {"transform": [{"filter": "datum.k == 'mk'"}], "mark": {"type": "square", "filled": true, "size": 42, "opacity": 1},
                  "encoding": {"color": {"field": "s", "type": "nominal", "scale": {"domain": ["iiq", "iid"], "range": ["#b5174f", "#8f8420"]}, "legend": null}}},
                {"transform": [{"filter": "datum.k == 'seg'"}], "mark": {"type": "rule", "color": "#111", "strokeWidth": 1.1},
                  "encoding": {"x2": {"field": "t2"}, "y2": {"field": "y2"}}},
                {"transform": [{"filter": "datum.k == 'head'"}], "mark": {"type": "point", "filled": true, "color": "#111", "size": 22, "opacity": 1},
                  "encoding": {"shape": {"field": "s", "type": "nominal", "scale": {"domain": ["l", "r", "u", "d"], "range": ["triangle-left", "triangle-right", "triangle-up", "triangle-down"]}, "legend": null}}},
                {"transform": [{"filter": "datum.k == 'm'"}], "mark": {"type": "text", "fontSize": 10, "align": "center", "color": "#111"}, "encoding": {"text": {"field": "txt"}}},
                {"transform": [{"filter": "datum.k == 'h'"}], "mark": {"type": "text", "fontSize": 10.5, "align": "left", "color": "#111"}, "encoding": {"text": {"field": "txt"}}},
                {"transform": [{"filter": "datum.k == 'hi'"}], "mark": {"type": "text", "fontSize": 11, "fontStyle": "italic", "align": "left", "color": "#111"}, "encoding": {"text": {"field": "txt"}}},
                {"transform": [{"filter": "datum.k == 'hs'"}], "mark": {"type": "text", "fontSize": 7.5, "fontStyle": "italic", "align": "left", "dy": 3, "color": "#111"}, "encoding": {"text": {"field": "txt"}}},
                {"transform": [{"filter": "datum.k == 'L'"}], "mark": {"type": "text", "fontSize": 13, "fontStyle": "italic", "align": "left"},
                  "encoding": {"text": {"field": "txt"}, "color": {"field": "s", "type": "nominal", "scale": {"domain": ["vdc", "iid", "iiq", "i0"], "range": ["#e81f3f", "#d6c45a", "#e0245e", "#19b36b"]}, "legend": null}}},
                {"transform": [{"filter": "datum.k == 'Ls'"}], "mark": {"type": "text", "fontSize": 9, "fontStyle": "italic", "align": "left", "dy": 3.5},
                  "encoding": {"text": {"field": "txt"}, "color": {"field": "s", "type": "nominal", "scale": {"domain": ["vdc", "iid", "iiq", "i0"], "range": ["#e81f3f", "#d6c45a", "#e0245e", "#19b36b"]}, "legend": null}}},
                {"transform": [{"filter": "datum.k == 'tl'"}], "mark": {"type": "text", "fontSize": 11, "align": "right", "color": "#111"}, "encoding": {"text": {"field": "txt"}}}
              ],
              "resolve": {"scale": {"color": "independent"}}
            }
          ],
          "spacing": 1
        }
      ],
      "spacing": 10
    }
  ],
  "spacing": 10,
  "config": {
    "background": "white",
    "view": {"stroke": "#9a9a9a", "strokeWidth": 1},
    "axis": {"grid": true, "gridColor": "#c4c4c4", "gridDash": [1.5, 2], "gridWidth": 0.8,
      "labelFont": "Liberation Serif", "labelFontWeight": "bold", "labelFontSize": 10, "labelColor": "#222",
      "titleFont": "Liberation Serif", "titleFontWeight": "normal", "titleFontSize": 14, "titleColor": "#222"},
    "axisX": {"domainColor": "#9a9a9a", "tickColor": "#333", "tickSize": 6, "labelPadding": 0, "titlePadding": 0, "labelAngle": 0},
    "axisY": {"domainColor": "#555"},
    "text": {"font": "Liberation Serif", "fontWeight": "bold", "baseline": "middle"},
    "title": {"font": "Liberation Serif"}
  }
}
